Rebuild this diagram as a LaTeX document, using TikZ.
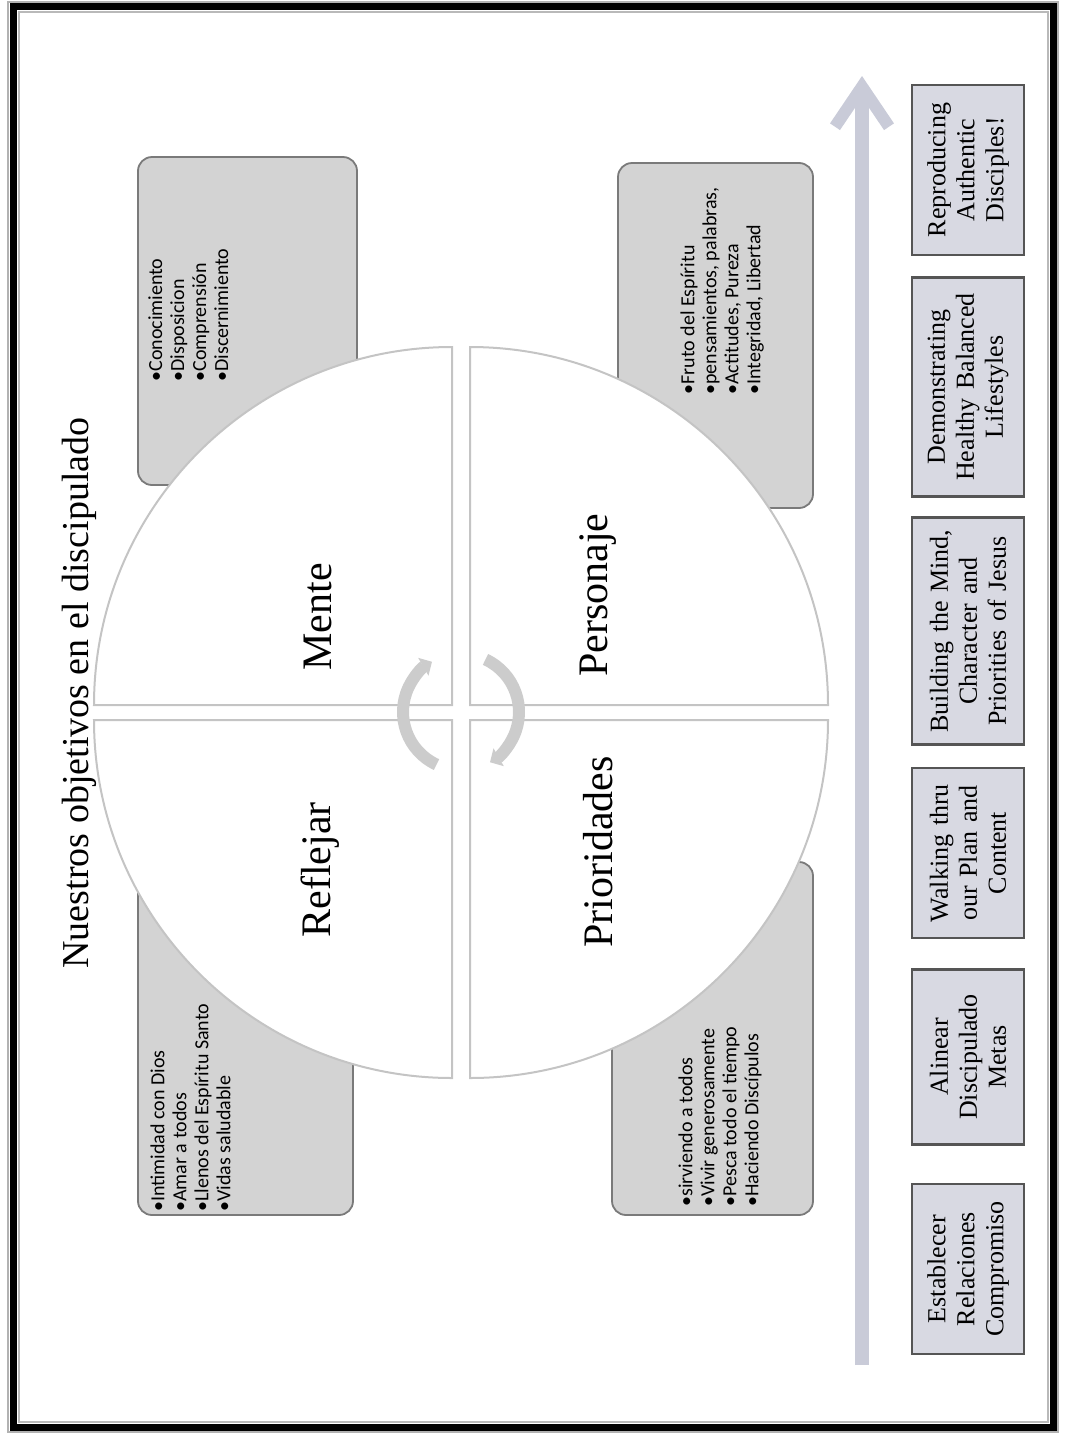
\documentclass[tikz,border=0pt]{standalone}
\usepackage{fontspec}
\setmainfont{Liberation Serif}
\newfontfamily\carlito{Carlito}
\usetikzlibrary{arrows.meta,positioning,calc}
\definecolor{cajagris}{HTML}{D3D3D3}
\definecolor{bordegris}{HTML}{7A7A7A}
\definecolor{etapaazul}{HTML}{D8D9E2}
\definecolor{flecha}{HTML}{C9CBD8}
\definecolor{cuartoborde}{HTML}{C4C4C4}
\tikzset{
  caja/.style={rectangle, rounded corners=7pt, draw=bordegris, line width=0.9pt, fill=cajagris},
  lista/.style={rotate=90, anchor=north west, align=left, inner sep=0pt,
                font=\carlito\fontsize{10}{11}\selectfont},
  etapa/.style={rectangle, rotate=90, draw=bordegris!70!black, line width=1.1pt, fill=etapaazul,
                align=center, minimum height=56pt, inner sep=2pt, font=\fontsize{13}{14.5}\selectfont},
  cuarto/.style={fill=white, draw=cuartoborde, line width=1pt},
  etiqueta/.style={rotate=90, font=\fontsize{21}{24}\selectfont},
  giro/.style={draw=gray!40, line width=6pt, -{Triangle[length=5pt,width=10pt]}},
  arr/.style={-{Straight Barb[length=20pt,width=27pt,line width=6pt]}, line width=7pt, draw=flecha},
}

\begin{document}
\begin{tikzpicture}[x=0.5pt, y=0.5pt]
    \useasboundingbox (0,0) rectangle (1065,-1435);
    % marco
    \draw[gray!60, line width=1pt] (8,-1.5) rectangle (1058,-1432);
    \draw[black, line width=3.5pt] (13.5,-6.5) rectangle (1053,-1427);
    \draw[gray!55, line width=1pt] (19,-12) rectangle (1047.5,-1421.5);
    \node[rotate=90, font=\fontsize{19}{22}\selectfont] (titulo) at (79,-693) {Nuestros objetivos en el discipulado};
    % cajas de listas
    \node[caja, minimum width=109.5pt, minimum height=164pt] (cajaM) at (247.5,-321) {};
    \node[caja, minimum width=97.5pt, minimum height=172.5pt] (cajaP) at (715.5,-335.5) {};
    \node[caja, minimum width=107.5pt, minimum height=180pt] (cajaR) at (245.5,-1035) {};
    \node[caja, minimum width=100.5pt, minimum height=176.5pt] (cajaPr) at (712.5,-1038.5) {};
    \node[lista] (listaM) at (148,-382) {•Conocimiento\\•Disposicion\\•Comprensión\\•Discernimiento};
    \node[lista] (listaP) at (680,-395) {•Fruto del Espíritu\\•pensamientos, palabras,\\•Actitudes, Pureza\\•Integridad, Libertad};
    \node[lista] (listaR) at (150,-1212) {•Intimidad con Dios\\•Amar a todos\\•Llenos del Espíritu Santo\\•Vidas saludable};
    \node[lista] (listaPr) at (678,-1207) {•sirviendo a todos\\•Vivir generosamente\\•Pesca todo el tiempo\\•Haciendo Discípulos};
    % circulo en cuatro partes
    \draw[cuarto] (452,-705) -- ++(-358,0) arc[start angle=180, end angle=90, radius=358] -- cycle;
    \draw[cuarto] (470,-705) -- ++(0,358) arc[start angle=90, end angle=0, radius=358] -- cycle;
    \draw[cuarto] (452,-720) -- ++(0,-358) arc[start angle=270, end angle=180, radius=358] -- cycle;
    \draw[cuarto] (470,-720) -- ++(358,0) arc[start angle=0, end angle=-90, radius=358] -- cycle;
    \node[etiqueta] (mente) at (318,-617) {Mente};
    \node[etiqueta] (personaje) at (598,-595) {Personaje};
    \node[etiqueta] (reflejar) at (320,-870) {Reflejar};
    \node[etiqueta] (prioridades) at (598,-852) {Prioridades};
    \coordinate (centro) at (461,-712);
    \draw[giro] ([shift={(245:58)}]centro) arc[start angle=245, end angle=120, radius=58];
    \draw[giro] ([shift={(65:58)}]centro) arc[start angle=65, end angle=-60, radius=58];
    % flecha de progreso
    \coordinate (flechaabajo) at (862,-1365);
    \coordinate (flechaarriba) at (862,-76);
    \draw[arr] (flechaabajo) -- (flechaarriba);
    % etapas
    \node[etapa, minimum width=85pt, text width=81pt] (e1) at (968,-1269) {Establecer\\Relaciones\\Compromiso};
    \node[etapa, minimum width=87.5pt, text width=83pt] (e2) at (968,-1057) {Alinear\\Discipulado\\Metas};
    \node[etapa, minimum width=85pt, text width=81pt] (e3) at (968,-853) {Walking thru\\our Plan and\\Content};
    \node[etapa, minimum width=113.5pt, text width=109pt] (e4) at (968,-631) {Building the Mind,\\Character and\\Priorities of Jesus};
    \node[etapa, minimum width=109.5pt, text width=105pt] (e5) at (968,-387) {Demonstrating\\Healthy Balanced\\Lifestyles};
    \node[etapa, minimum width=85pt, text width=81pt] (e6) at (968,-170) {Reproducing\\Authentic\\Disciples!};
  \end{tikzpicture}
\end{document}
